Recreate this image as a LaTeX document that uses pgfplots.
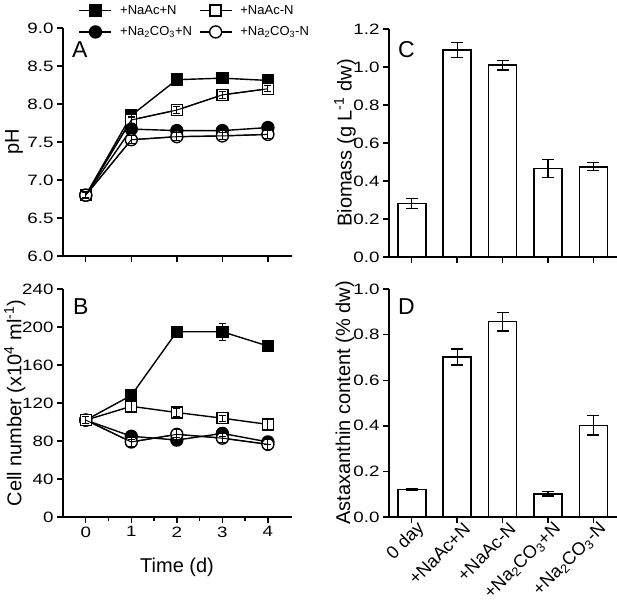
\documentclass[border=0pt]{standalone}
\usepackage{fontspec}
\setmainfont{Liberation Sans}
\newfontfamily\widefont[FakeStretch=1.25]{Liberation Sans}
\usepackage{pgfplots}
\usepackage{pgfplotstable}
\pgfplotsset{compat=1.18}

% x  y  err
\pgfplotstableread{
0 6.80 0.03
1 7.85 0.03
2 8.32 0.02
3 8.34 0.02
4 8.31 0.02
}\phA
\pgfplotstableread{
0 6.80 0.05
1 7.79 0.05
2 7.92 0.05
3 8.12 0.05
4 8.20 0.04
}\phB
\pgfplotstableread{
0 6.80 0.03
1 7.67 0.02
2 7.65 0.02
3 7.65 0.02
4 7.69 0.02
}\phC
\pgfplotstableread{
0 6.80 0.05
1 7.53 0.05
2 7.57 0.05
3 7.58 0.05
4 7.60 0.05
}\phD
\pgfplotstableread{
0 102 4
1 128 3
2 195 5
3 195 9
4 180 3
}\cnA
\pgfplotstableread{
0 102 4
1 116.5 5
2 110 4
3 104 3
4 97.5 5
}\cnB
\pgfplotstableread{
0 102 4
1 85 3
2 81 3
3 88 3
4 79 3
}\cnC
\pgfplotstableread{
0 102 4
1 79 5
2 87 5
3 83 5
4 76.5 5
}\cnD

\pgfplotsset{
  panel/.style={
    scale only axis, width=229pt, height=228pt,
    axis lines*=left,
    axis line style={line width=1.6pt},
    tick align=outside,
    major tick length=6pt, minor tick length=4pt,
    every tick/.style={black, line width=1.4pt},
    tick label style={font=\widefont\fontsize{15}{15}\selectfont},
    label style={font=\fontsize{20}{20}\selectfont},
    /pgf/number format/assume math mode=true,
    clip=false,
  },
  overlay/.style={scale only axis, width=229pt, height=228pt,
    hide axis, clip=false, xmin=-0.5, xmax=4.53},
  onedec/.style={yticklabel style={/pgf/number format/fixed,
      /pgf/number format/fixed zerofill, /pgf/number format/precision=1}},
  ln/.style={black, line width=1.4pt},
  s1/.style={mark=square*, mark size=5.5pt, mark options={fill=black}, ln},
  s2/.style={mark=square*, mark size=5.5pt, mark options={fill=white}, ln},
  s3/.style={mark=*, mark size=6pt, mark options={fill=black}, ln},
  s4/.style={mark=*, mark size=6pt, mark options={fill=white}, ln},
  thru/.style={black, line width=1pt, mark=none},
  eb/.style={draw=none, mark=none,
    error bars/.cd, y dir=both, y explicit,
    error bar style={draw=black, line width=1pt},
    error mark options={rotate=90, draw=black, mark size=3.5pt, line width=1pt}},
  bars/.style={ybar, bar width=28pt, fill=white, draw=black, line width=1.6pt,
    error bars/.cd, y dir=both, y explicit,
    error bar style={line width=1.2pt},
    error mark options={rotate=90, mark size=6pt, line width=1.2pt}},
}

\begin{document}
\begin{tikzpicture}[x=1pt,y=1pt]
\path[use as bounding box] (0,0) rectangle (617,603);

% ---------- A: pH ----------
\begin{axis}[panel, onedec,
  at={(63pt,347pt)}, anchor=south west,
  xmin=-0.5, xmax=4.53, xtick={0,1,2,3,4}, xticklabels={},
  ymin=6, ymax=9, ytick={6,6.5,7,7.5,8,8.5,9},
  ylabel={pH},
  ylabel style={at={(axis description cs:-0.214,0.5)}, anchor=center},
  legend columns=2,
  legend cell align=left,
  legend image code/.code={\draw[mark repeat=2, mark phase=2, #1]
    plot coordinates {(0pt,0pt) (16pt,0pt) (32pt,0pt)};},
  legend style={draw=none, fill=none, at={(0.068,1.102)}, anchor=north west,
    inner sep=0pt, row sep=10pt, font=\fontsize{13}{13}\selectfont,
    nodes={inner sep=0pt},
    /tikz/every odd column/.append style={column sep=8pt},
    /tikz/every even column/.append style={column sep=7pt}},
]
\addplot[s1] table {\phA};
\addlegendentry{+NaAc+N}
\addplot[s2] table {\phB};
\addlegendentry{+NaAc-N}
\addplot[s3] table {\phC};
\addlegendentry{+Na\textsubscript{2}CO\textsubscript{3}+N}
\addplot[s4] table {\phD};
\addlegendentry{+Na\textsubscript{2}CO\textsubscript{3}-N}
\node[anchor=north west, inner sep=0pt, font=\fontsize{23}{23}\selectfont]
  at (rel axis cs:0.039,0.94) {A};
\end{axis}
% error bars and lines on top of the open markers
\begin{axis}[overlay, at={(63pt,347pt)}, anchor=south west, ymin=6, ymax=9]
\addplot[thru] table {\phB};
\addplot[thru] table {\phD};
\addplot[eb] table[y error index=2] {\phA};
\addplot[eb] table[y error index=2] {\phB};
\addplot[eb] table[y error index=2] {\phC};
\addplot[eb] table[y error index=2] {\phD};
\end{axis}

% ---------- B: cell number ----------
\begin{axis}[panel,
  at={(63pt,86pt)}, anchor=south west,
  xmin=-0.5, xmax=4.53, xtick={0,1,2,3,4}, minor x tick num=1,
  ymin=0, ymax=240, ytick={0,40,80,120,160,200,240},
  xlabel={Time (d)},
  xlabel style={at={(axis description cs:0.498,-0.219)}, anchor=center},
  ylabel={Cell number (x10\textsuperscript{4} ml\textsuperscript{-1})},
  ylabel style={at={(axis description cs:-0.21,0.5)}, anchor=center},
]
\addplot[s1] table {\cnA};
\addplot[s3] table {\cnC};
\addplot[s4] table {\cnD};
\addplot[s2] table {\cnB};
\node[anchor=north west, inner sep=0pt, font=\fontsize{23}{23}\selectfont]
  at (rel axis cs:0.043,0.96) {B};
\end{axis}
\begin{axis}[overlay, at={(63pt,86pt)}, anchor=south west, ymin=0, ymax=240]
\addplot[thru] table {\cnD};
\addplot[eb] table[y error index=2] {\cnA};
\addplot[eb] table[y error index=2] {\cnB};
\addplot[eb] table[y error index=2] {\cnC};
\addplot[eb] table[y error index=2] {\cnD};
\end{axis}

% ---------- C: biomass ----------
\begin{axis}[panel, onedec,
  at={(389pt,346pt)}, anchor=south west, width=228pt,
  xmin=-0.5, xmax=4.52, xtick={0,1,2,3,4}, xticklabels={},
  ymin=0, ymax=1.2, ytick={0,0.2,0.4,0.6,0.8,1.0,1.2},
  ylabel={Biomass (g L\textsuperscript{-1} dw)},
  ylabel style={at={(axis description cs:-0.193,0.5)}, anchor=center},
]
\addplot[bars] table[y error index=2] {
0 0.281 0.025
1 1.090 0.040
2 1.010 0.026
3 0.466 0.048
4 0.475 0.021
};
\node[anchor=north west, inner sep=0pt, font=\fontsize{23}{23}\selectfont]
  at (rel axis cs:0.039,0.945) {C};
\end{axis}

% ---------- D: astaxanthin ----------
\begin{axis}[panel, onedec,
  at={(389pt,86pt)}, anchor=south west, width=228pt,
  xmin=-0.5, xmax=4.52, xtick={0,1,2,3,4},
  xticklabels={0 day, +NaAc+N, +NaAc-N,
    +Na\textsubscript{2}CO\textsubscript{3}+N,
    +Na\textsubscript{2}CO\textsubscript{3}-N},
  xticklabel style={xshift=10pt, yshift=-3pt, rotate=45, anchor=east,
    inner sep=0pt, font=\fontsize{18}{18}\selectfont},
  ymin=0, ymax=1.0, ytick={0,0.2,0.4,0.6,0.8,1.0},
  ylabel={Astaxanthin content (\% dw)},
  ylabel style={at={(axis description cs:-0.193,0.5)}, anchor=center},
]
\addplot[bars] table[y error index=2] {
0 0.120 0.005
1 0.702 0.035
2 0.857 0.041
3 0.102 0.010
4 0.402 0.042
};
\node[anchor=north west, inner sep=0pt, font=\fontsize{23}{23}\selectfont]
  at (rel axis cs:0.039,0.96) {D};
\end{axis}

\end{tikzpicture}
\end{document}
